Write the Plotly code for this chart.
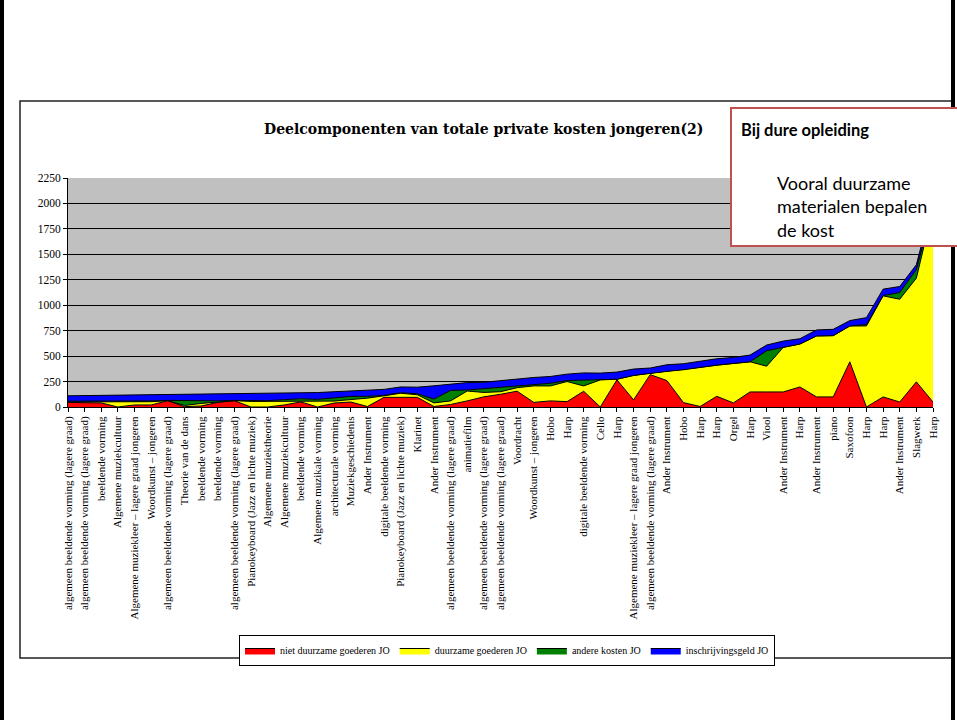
import plotly.graph_objects as go

categories = [
    "algemeen beeldende vorming (lagere graad)", "algemeen beeldende vorming (lagere graad)",
    "beeldende vorming", "Algemene muziekcultuur",
    "Algemene muziekleer – lagere graad jongeren", "Woordkunst – jongeren",
    "algemeen beeldende vorming (lagere graad)", "Theorie van de dans",
    "beeldende vorming", "beeldende vorming",
    "algemeen beeldende vorming (lagere graad)", "Pianokeyboard (Jazz en lichte muziek)",
    "Algemene muziektheorie", "Algemene muziekcultuur", "beeldende vorming",
    "Algemene muzikale vorming", "architecturale vorming", "Muziekgeschiedenis",
    "Ander Instrument", "digitale beeldende vorming",
    "Pianokeyboard (Jazz en lichte muziek)", "Klarinet", "Ander Instrument",
    "algemeen beeldende vorming (lagere graad)", "animatiefilm",
    "algemeen beeldende vorming (lagere graad)", "algemeen beeldende vorming (lagere graad)",
    "Voordracht", "Woordkunst – jongeren", "Hobo", "Harp", "digitale beeldende vorming",
    "Cello", "Harp", "Algemene muziekleer – lagere graad jongeren",
    "algemeen beeldende vorming (lagere graad)", "Ander Instrument", "Hobo", "Harp",
    "Harp", "Orgel", "Harp", "Viool", "Ander Instrument", "Harp", "Ander Instrument",
    "piano", "Saxofoon", "Harp", "Harp", "Ander Instrument", "Slagwerk", "Harp",
]

niet_duurzaam = [45, 45, 40, 0, 20, 20, 62, 3, 10, 45, 62, 0, 0, 20, 50, 0, 39, 49,
                 5, 95, 95, 95, 5, 25, 60, 100, 125, 155, 45, 60, 53, 155, 0, 267, 70,
                 318, 260, 43, 5, 105, 40, 148, 148, 148, 197, 99, 99, 444, 0, 99, 49, 247, 49]
duurzaam = [5, 5, 10, 50, 30, 32, 0, 12, 25, 5, 0, 55, 55, 40, 5, 58, 19, 24,
            82, 15, 40, 25, 35, 35, 97, 43, 25, 35, 162, 147, 197, 52, 266, 6, 240,
            15, 90, 323, 385, 306, 388, 296, 253, 438, 422, 599, 602, 352, 796, 993, 1010, 1019, 1900]
andere = [7, 7, 8, 7, 8, 8, 3, 47, 23, 10, 3, 7, 7, 12, 26, 17, 30, 31,
          18, 5, 5, 10, 38, 103, 10, 37, 43, 23, 16, 26, 10, 58, 0, 0, 0,
          0, 0, 0, 0, 0, 0, 0, 152, 0, 0, 0, 0, 0, 15, 3, 66, 83, 20]
inschrijving = [53, 55, 57, 60, 62, 60, 57, 60, 67, 67, 63, 68, 73, 65, 59, 67, 62, 56,
                60, 58, 57, 65, 130, 64, 73, 63, 67, 60, 67, 67, 63, 70, 67, 70, 63,
                50, 65, 59, 62, 63, 59, 66, 56, 62, 52, 59, 62, 53, 67, 63, 59, 49, 60]

series_names = ["niet duurzame goederen JO", "duurzame goederen JO",
                "andere kosten JO", "inschrijvingsgeld JO"]
series_values = [niet_duurzaam, duurzaam, andere, inschrijving]
series_colors = ["#ff0000", "#ffff00", "#008000", "#0000ff"]

y_ticks = [0, 250, 500, 750, 1000, 1250, 1500, 1750, 2000, 2250]

x = list(range(len(categories)))

fig = go.Figure()
for name, vals, col in zip(series_names, series_values, series_colors):
    fig.add_trace(go.Scatter(
        x=x, y=vals, name=name, mode="lines", stackgroup="one",
        line=dict(color="black", width=1), fillcolor=col,
    ))

# pixel -> paper helpers (plot area: x 68..933, y 178..407)
L, R, T, B = 68, 933, 178, 407
def px(v):
    return (v - L) / (R - L)
def py(v):
    return (B - v) / (B - T)

serif = "Liberation Serif"

shapes = [
    # chart frame
    dict(type="rect", xref="paper", yref="paper", x0=px(20), x1=px(952), y0=py(101), y1=py(658),
         line=dict(color="#222222", width=1.5), layer="below"),
    # right slide border
    dict(type="rect", xref="paper", yref="paper", x0=px(951), x1=px(955), y0=py(-2), y1=py(722),
         fillcolor="black", line=dict(width=0), layer="above"),
    # callout box
    dict(type="rect", xref="paper", yref="paper", x0=px(731), x1=px(962), y0=py(108), y1=py(246),
         fillcolor="white", line=dict(color="#c0504d", width=2), layer="above"),
]

annotations = [
    dict(text="<b>Deelcomponenten van totale private kosten jongeren(2)</b>", xref="paper", yref="paper",
         x=px(483), y=py(129), xanchor="center", yanchor="middle", showarrow=False,
         font=dict(family="DejaVu Serif", size=14, color="black")),
    dict(text="<b>Bij dure opleiding</b>", xref="paper", yref="paper",
         x=px(739), y=py(130), xanchor="left", yanchor="middle", showarrow=False,
         font=dict(family="Lato", size=16.5, color="black")),
    dict(text="Vooral duurzame<br>materialen bepalen<br>de kost", xref="paper", yref="paper",
         x=px(775), y=py(206), xanchor="left", yanchor="middle", align="left", showarrow=False,
         font=dict(family="Lato", size=18, color="black")),
]

fig.update_layout(
    width=957, height=720,
    margin=dict(l=L, r=957 - R, t=T, b=720 - B),
    paper_bgcolor="white", plot_bgcolor="#c0c0c0",
    showlegend=True,
    legend=dict(orientation="h", x=px(507), y=py(635), xanchor="center", yanchor="top",
                bordercolor="black", borderwidth=1, bgcolor="white", traceorder="normal",
                font=dict(family=serif, size=10, color="black"),
                itemwidth=30, tracegroupgap=0),
    shapes=shapes, annotations=annotations,
    xaxis=dict(range=[0, len(categories) - 1], tickmode="array", tickvals=x, ticktext=categories,
               tickangle=-90, showgrid=False, zeroline=False, showline=True,
               linecolor="black", linewidth=1, ticks="outside", ticklen=4, tickcolor="black",
               tickfont=dict(family=serif, size=11, color="black")),
    yaxis=dict(range=[0, 2250], tickmode="array", tickvals=y_ticks,
               showgrid=True, gridcolor="black", gridwidth=1, zeroline=False,
               showline=True, linecolor="black", linewidth=1, ticks="outside", ticklen=4,
               tickcolor="black", tickfont=dict(family=serif, size=11.5, color="black")),
)

post = (
    "document.body.style.margin='0';document.body.style.overflow='hidden';"
    "var b=document.createElement('div');"
    "b.style.cssText='position:fixed;left:0;top:0;width:4px;height:720px;background:#000;z-index:10;';"
    "document.body.appendChild(b);"
)
fig.write_html("out.html", config={"displayModeBar": False}, post_script=post)
